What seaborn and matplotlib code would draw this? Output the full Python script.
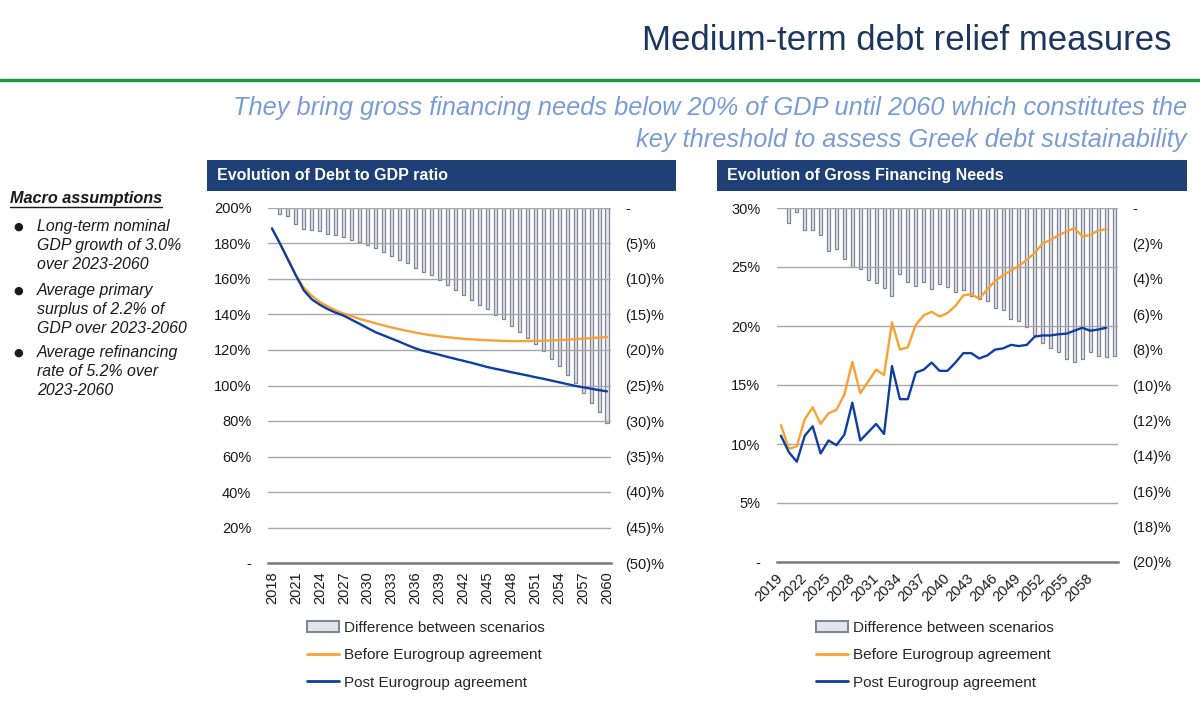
import matplotlib
matplotlib.use("Agg")
import matplotlib.pyplot as plt
import seaborn as sns
from matplotlib.patches import Patch, Rectangle
from matplotlib.lines import Line2D
from matplotlib.ticker import FuncFormatter

# ---- Debt to GDP ratio (%), 2018-2060
debt_years = list(range(2018, 2061))
debt_before = [188.5, 180, 171, 162, 155, 150.5, 147, 144.5, 142.3, 140.5,
               139, 137.5, 136.3, 135.0, 133.8, 132.7, 131.7, 130.7, 129.8,
               129.0, 128.3, 127.7, 127.2, 126.7, 126.3, 126.0, 125.7, 125.5,
               125.3, 125.1, 125.0, 125.0, 125.0, 125.1, 125.2, 125.4, 125.6,
               125.8, 126.1, 126.4, 126.7, 127.0, 127.3]
debt_post = [188.5, 180, 171, 162, 153.5, 148.5, 145.5, 143.0, 141.0, 139.3,
             137.0, 134.7, 132.3, 130.0, 128.2, 126.4, 124.6, 122.7, 120.9,
             119.5, 118.4, 117.3, 116.1, 115.0, 113.9, 112.8, 111.6, 110.4,
             109.4, 108.5, 107.5, 106.6, 105.7, 104.7, 103.8, 102.8, 101.8,
             100.8, 99.8, 99.0, 98.2, 97.4, 96.7]
# difference between scenarios (right axis, negative %), 2019-2060
debt_diff_years = list(range(2019, 2061))
debt_diff = [-0.9, -1.1, -2.3, -3.0, -3.1, -3.3, -3.6, -3.8, -4.1, -4.5,
             -4.8, -5.2, -5.7, -6.2, -6.7, -7.3, -7.8, -8.4, -9.0, -9.5,
             -10.2, -10.8, -11.5, -12.2, -12.9, -13.6, -14.2, -15.0, -15.7,
             -16.6, -17.4, -18.3, -19.2, -20.2, -21.2, -22.3, -23.5, -24.6,
             -26.1, -27.4, -28.8, -30.3]

# ---- Gross financing needs (% of GDP), 2019-2060
gfn_years = list(range(2019, 2061))
gfn_before = [11.6, 9.6, 9.8, 12.1, 13.1, 11.7, 12.6, 12.9, 14.2, 16.95,
              14.3, 15.3, 16.3, 15.85, 20.3, 18.0, 18.2, 20.1, 20.9, 21.2,
              20.8, 21.1, 21.7, 22.6, 22.7, 22.3, 23.1, 23.8, 24.3, 24.7,
              25.1, 25.6, 26.2, 27.0, 27.3, 27.7, 28.0, 28.3, 27.6, 27.7,
              28.1, 28.2]
gfn_post = [10.7, 9.3, 8.5, 10.7, 11.5, 9.2, 10.3, 9.9, 10.8, 13.5,
            10.3, 11.0, 11.7, 10.85, 16.6, 13.8, 13.8, 16.05, 16.3, 16.9,
            16.2, 16.2, 16.9, 17.7, 17.7, 17.25, 17.5, 18.0, 18.1, 18.4,
            18.3, 18.4, 19.1, 19.2, 19.2, 19.3, 19.35, 19.6, 19.85, 19.6,
            19.7, 19.85]
gfn_diff_years = list(range(2020, 2062))
gfn_diff = [-0.85, -0.2, -1.22, -1.22, -1.54, -2.41, -2.32, -2.9, -3.33, -3.43,
            -4.05, -4.24, -4.54, -4.95, -3.71, -4.18, -4.43, -4.18, -4.58,
            -4.29, -4.48, -4.76, -4.65, -4.95, -5.14, -5.24, -5.65, -5.74,
            -6.27, -6.4, -6.72, -7.19, -7.63, -7.93, -8.15, -8.51, -8.7,
            -8.53, -8.15, -8.38, -8.42, -8.38]

legend_labels = ["Difference between scenarios", "Before Eurogroup agreement",
                 "Post Eurogroup agreement"]
assumptions = ["Long-term nominal\nGDP growth of 3.0%\nover 2023-2060",
               "Average primary\nsurplus of 2.2% of\nGDP over 2023-2060",
               "Average refinancing\nrate of 5.2% over\n2023-2060"]

ORANGE = "#f7a233"
BLUE = "#0e3fa0"
BAR_FACE = "#e3e5eb"
BAR_EDGE = "#80859a"
NAVY = "#1f3f77"
GRID = "#a8a8a8"

sns.set_theme(style="white")
plt.rcParams["font.family"] = ["Liberation Sans", "DejaVu Sans"]

fig = plt.figure(figsize=(12, 7.16), dpi=100)


def fmt_left(v, pos):
    return "-" if abs(v) < 1e-9 else f"{v:.0f}%"


def fmt_right(v, pos):
    return "-" if abs(v) < 1e-9 else f"({abs(v):.0f})%"


def panel(rect, years, before, post, diff_years, diff, ytop, ystep,
          y2bottom, y2step, tick_years, rot):
    ax = fig.add_axes(rect)
    ax2 = ax.twinx()
    sns.barplot(x=diff_years, y=diff, native_scale=True, width=0.38,
                color=BAR_FACE, edgecolor=BAR_EDGE, linewidth=0.9,
                saturation=1, errorbar=None, ax=ax2)
    sns.lineplot(x=years, y=before, color=ORANGE, linewidth=1.7, ax=ax)
    sns.lineplot(x=years, y=post, color=BLUE, linewidth=1.7, ax=ax)
    ax.set_zorder(ax2.get_zorder() + 1)
    ax.patch.set_visible(False)

    lo = min(years[0], diff_years[0]) - 0.5
    hi = max(years[-1], diff_years[-1]) + 0.5
    ax.set_xlim(lo, hi)
    ax.set_ylim(0, ytop)
    ax.set_yticks(list(range(0, ytop + 1, ystep)))
    ax.yaxis.set_major_formatter(FuncFormatter(fmt_left))
    ax2.set_ylim(y2bottom, 0)
    ax2.set_yticks(list(range(y2bottom, 1, y2step)))
    ax2.yaxis.set_major_formatter(FuncFormatter(fmt_right))
    ax.set_xticks(tick_years)
    if rot == 90:
        ax.set_xticklabels([str(y) for y in tick_years], rotation=90)
    else:
        ax.set_xticklabels([str(y) for y in tick_years], rotation=45,
                           ha="right", va="center", rotation_mode="anchor")
    ax.set_xlabel("")
    ax.set_ylabel("")
    ax2.set_xlabel("")
    ax2.set_ylabel("")

    ax.grid(False)
    ax2.grid(False)
    ax.yaxis.grid(True, color=GRID, linewidth=1.0)
    for a in (ax, ax2):
        for s in a.spines.values():
            s.set_visible(False)
    ax.spines["bottom"].set_visible(True)
    ax.spines["bottom"].set_color("#7a7a7a")
    ax.spines["bottom"].set_linewidth(1.8)
    ax.tick_params(axis="y", length=0, labelsize=10.5, pad=12, colors="#1a1a1a")
    ax.tick_params(axis="x", length=0, labelsize=10.5, pad=6 if rot == 90 else 10,
                   colors="#1a1a1a")
    ax2.tick_params(axis="y", length=0, labelsize=10.5, pad=10, colors="#1a1a1a")
    return ax, ax2


panel([268 / 1200, 1 - 563 / 716, 343 / 1200, 355 / 716],
      debt_years, debt_before, debt_post, debt_diff_years, debt_diff,
      200, 20, -50, 5, debt_years[::3], 90)
panel([777 / 1200, 1 - 562 / 716, 341 / 1200, 354 / 716],
      gfn_years, gfn_before, gfn_post, gfn_diff_years, gfn_diff,
      30, 5, -20, 2, gfn_years[:-2:3], 45)

# legends
handles = [Patch(facecolor=BAR_FACE, edgecolor=BAR_EDGE, linewidth=1.5),
           Line2D([], [], color=ORANGE, lw=2),
           Line2D([], [], color=BLUE, lw=2)]
for lx in (307 / 1200, 816 / 1200):
    fig.legend(handles, legend_labels, loc="upper left",
               bbox_to_anchor=(lx, 1 - 621 / 716), frameon=False,
               fontsize=11, handlelength=2.1, handletextpad=0.34,
               labelspacing=0.87, borderpad=0, borderaxespad=0)

# header boxes
for bx, bw, txt in ((207, 469, "Evolution of Debt to GDP ratio"),
                    (717, 470, "Evolution of Gross Financing Needs")):
    fig.add_artist(Rectangle((bx / 1200, 1 - 191 / 716), bw / 1200, 31 / 716,
                             transform=fig.transFigure, color=NAVY, lw=0))
    fig.text((bx + 10) / 1200, 1 - 175.5 / 716, txt, color="white",
             fontsize=11.5, fontweight="bold", va="center", ha="left")

# title and subtitle
fig.text(1172 / 1200, 1 - 40 / 716, "Medium-term debt relief measures",
         color="#1c365f", fontsize=25, ha="right", va="center")
fig.add_artist(Line2D([0, 1], [1 - 80 / 716, 1 - 80 / 716],
                      transform=fig.transFigure, color="#22963f", lw=2.4))
fig.text(1187 / 1200, 1 - 108 / 716,
         "They bring gross financing needs below 20% of GDP until 2060 which constitutes the",
         color="#7a9cd6", fontsize=18.3, style="italic", ha="right", va="center")
fig.text(1187 / 1200, 1 - 140 / 716,
         "key threshold to assess Greek debt sustainability",
         color="#7a9cd6", fontsize=18.3, style="italic", ha="right", va="center")

# macro assumptions
fig.text(10 / 1200, 1 - 198 / 716, "Macro assumptions", fontsize=11.7,
         fontweight="bold", style="italic", ha="left", va="center",
         color="#1a1a1a")
fig.add_artist(Line2D([10 / 1200, 162 / 1200], [1 - 207 / 716, 1 - 207 / 716],
                      transform=fig.transFigure, color="#1a1a1a", lw=1))
for top, item in zip((219, 283, 345), assumptions):
    fig.text(13 / 1200, 1 - (top + 8) / 716, "●", fontsize=8, ha="left",
             va="center", color="#1a1a1a", family=["DejaVu Sans"])
    fig.text(37 / 1200, 1 - top / 716, item, fontsize=11.4, style="italic",
             ha="left", va="top", linespacing=1.32, color="#1a1a1a")

fig.savefig("out.png", dpi=100)
